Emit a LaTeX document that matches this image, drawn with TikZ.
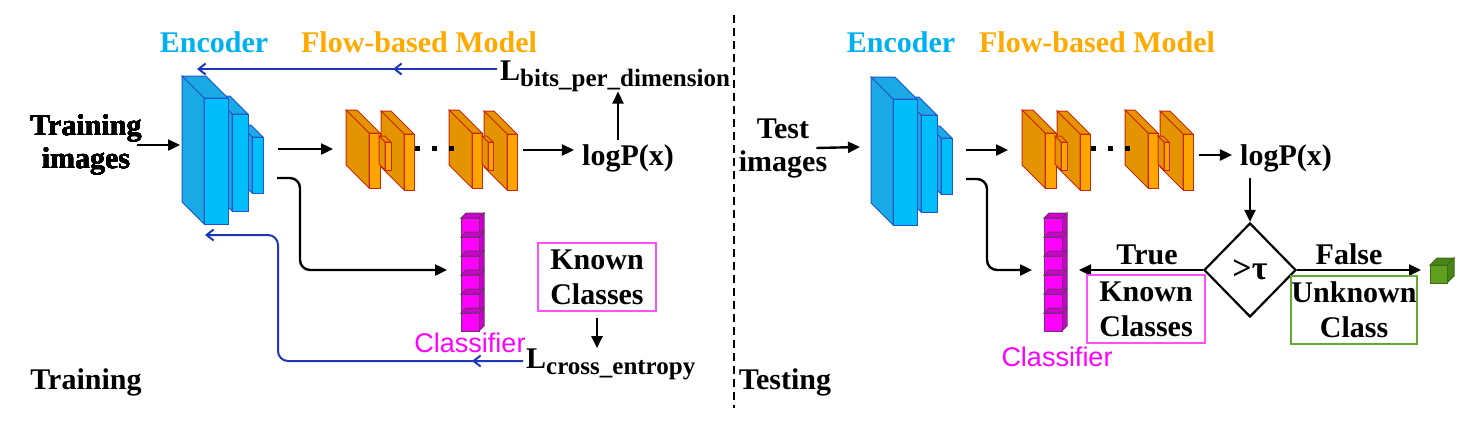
\documentclass[tikz,border=0pt]{standalone}
\usepackage{fontspec}
\setmainfont{Liberation Serif}
\newfontfamily\clsfamily{Liberation Sans}
\usepackage{tikz}
\usetikzlibrary{arrows.meta,shapes.geometric}
\definecolor{enctext}{RGB}{0,176,240}
\definecolor{flowtext}{RGB}{255,170,0}
\definecolor{encfront}{RGB}{0,190,250}
\definecolor{encside}{RGB}{25,170,230}
\definecolor{encedge}{RGB}{35,85,200}
\definecolor{flowfront}{RGB}{255,165,0}
\definecolor{flowside}{RGB}{228,148,0}
\definecolor{flowedge}{RGB}{200,40,10}
\definecolor{clsfront}{RGB}{255,0,255}
\definecolor{clsside}{RGB}{205,0,205}
\definecolor{clsedge}{RGB}{110,50,110}
\definecolor{backblue}{RGB}{30,55,185}
\definecolor{knownpink}{RGB}{255,80,255}
\definecolor{unkgreen}{RGB}{100,170,50}
\definecolor{cubefront}{RGB}{95,160,30}
\definecolor{cubeside}{RGB}{72,132,22}
\definecolor{cubeedge}{RGB}{60,110,20}
\newcommand{\slab}[8]{%
\filldraw[fill=#7,draw=#8,line width=1pt] (#1,#2) -- ++(-#5,-#5) -- ++(#3,0) -- ++(#5,#5) -- cycle;
\filldraw[fill=#7,draw=#8,line width=1pt] (#1,#2) -- ++(-#5,-#5) -- ++(0,#4) -- ++(#5,#5) -- cycle;
\filldraw[fill=#6,draw=#8,line width=1pt] (#1,#2) rectangle ++(#3,#4);}
\newcommand{\blockcube}[8]{%
\filldraw[fill=#7,draw=#8,line width=1pt] (#1,#2) -- ++(#5,-#5) -- ++(#3,0) -- ++(-#5,#5) -- cycle;
\filldraw[fill=#7,draw=#8,line width=1pt] (#1,#2) ++(#3,0) -- ++(#5,-#5) -- ++(0,#4) -- ++(-#5,#5) -- cycle;
\filldraw[fill=#6,draw=#8,line width=1pt] (#1,#2) rectangle ++(#3,#4);}
\newcommand{\losssub}[1]{\raisebox{-6pt}{\fontsize{25}{25}\selectfont #1}}
\begin{document}
\begin{tikzpicture}[x=1pt,y=-1pt,
  lbl/.style={font=\bfseries\fontsize{30}{33}\selectfont,inner sep=0pt},
  head/.style={font=\bfseries\fontsize{30}{33}\selectfont,inner sep=0pt,anchor=base},
  clsname/.style={font=\clsfamily\fontsize{27}{30}\selectfont,text=clsfront,inner sep=0pt,anchor=base},
  classbox/.style={draw,align=center,inner sep=0pt,minimum width=118pt,minimum height=68pt,line width=1.3pt,font=\bfseries\fontsize{30}{35}\selectfont},
  arr/.style={line width=2.4pt,-{Triangle[length=12pt,width=11pt]}},
  back/.style={draw=backblue,line width=2pt,-{Straight Barb[length=7pt,width=11pt]}}]
\useasboundingbox (0,0) rectangle (1483,445);
\node[head,text=enctext] (encl) at (214,52) {Encoder};
\node[head,text=flowtext] (flowl) at (419,52) {Flow-based Model};
\node[head,text=enctext] (encr) at (901,52) {Encoder};
\node[head,text=flowtext] (flowr) at (1097,52) {Flow-based Model};
\slab{252}{137}{11}{56}{12}{encfront}{encside}{encedge}
\slab{232}{114}{16}{97}{18}{encfront}{encside}{encedge}
\slab{204}{98}{24}{126}{22}{encfront}{encside}{encedge}
\slab{941}{138}{11}{56}{12}{encfront}{encside}{encedge}
\slab{921}{115}{16}{97}{18}{encfront}{encside}{encedge}
\slab{893}{99}{24}{126}{22}{encfront}{encside}{encedge}
\foreach \dx in {0,676}{
\begin{scope}[xshift=\dx pt]
\slab{369}{133}{11}{55}{23}{flowfront}{flowside}{flowedge}
\slab{404}{134}{10}{56}{23}{flowfront}{flowside}{flowedge}
\slab{385}{142}{6}{28}{6}{flowfront}{flowside}{flowedge}
\slab{472}{133}{10}{55}{23}{flowfront}{flowside}{flowedge}
\slab{507}{134}{10}{56}{23}{flowfront}{flowside}{flowedge}
\slab{488}{142}{5}{28}{6}{flowfront}{flowside}{flowedge}
\foreach \px in {415,432,449} \fill (\px,146) rectangle ++(5,5);
\end{scope}}
\foreach \cx in {461,1044} \foreach \cy in {218,237,...,313}
  \blockcube{\cx}{\cy}{18}{18}{5}{clsfront}{clsside}{clsedge}
\node[lbl,align=center] (trimg) at (86,145) {Training\\images};
\coordinate (encinl) at (180,145);
\draw[arr] ([xshift=-5pt]trimg.east) -- (encinl);
\coordinate (encoutl) at (278,149);
\coordinate (flowinl) at (333,149);
\draw[arr] (encoutl) -- (flowinl);
\node[lbl,anchor=base] (logpl) at (628,165) {logP(x)};
\coordinate (flowoutl) at (523,150);
\draw[arr,shorten >=8pt] (flowoutl) -- (flowoutl -| logpl.west);
\node[lbl,anchor=base west] (lbits) at (500,80) {L\losssub{bits\_per\_dimension}};
\coordinate (lup) at (618,140);
\draw[arr] (lup) -- (lup |- lbits.south);
\coordinate (enctopl) at (197,69);
\coordinate (midbits) at (393,69);
\draw[back] ([xshift=-3pt]lbits.west |- enctopl) -- (enctopl);
\draw[back] ([xshift=-3pt]lbits.west |- enctopl) -- (midbits);
\coordinate (clsoutl) at (277,178);
\coordinate (clsinl) at (447,270);
\draw[arr,rounded corners=10pt] (clsoutl) -- (300,178) -- (300,270) -- (clsinl);
\node[classbox,draw=knownpink] (knownl) at (597,277) {Known\\Classes};
\node[lbl,anchor=base west] (lce) at (526,368) {L\losssub{cross\_entropy}};
\draw[arr,shorten <=6pt] (knownl.south) -- (knownl.south |- lce.north);
\coordinate (ceturn) at (278,361);
\coordinate (encbotl) at (205,235);
\coordinate (midce) at (472,361);
\draw[back,rounded corners=10pt] ([xshift=-3pt]lce.west |- ceturn) -- (ceturn) -- (278,235) -- (encbotl);
\draw[back] ([xshift=-3pt]lce.west |- ceturn) -- (midce);
\node[clsname] (clsl) at (470,352) {Classifier};
\node[lbl,anchor=base] (trainl) at (86,389) {Training};
\draw[line width=2pt,dash pattern=on 8pt off 5pt] (734,15) -- (734,408);
\node[lbl,align=center] (testimg) at (783,148) {Test\\images};
\coordinate (encinr) at (860,147);
\draw[arr] ([xshift=-11pt]testimg.east) -- (encinr);
\coordinate (encoutr) at (966,150);
\coordinate (flowinr) at (1008,150);
\draw[arr] (encoutr) -- (flowinr);
\node[lbl,anchor=base] (logpr) at (1286,165) {logP(x)};
\coordinate (flowoutr) at (1199,155);
\draw[arr,shorten >=8pt] (flowoutr) -- (flowoutr -| logpr.west);
\node[lbl,diamond,draw,line width=2.2pt,aspect=1,minimum width=92pt,minimum height=94pt,font=\bfseries\fontsize{34}{34}\selectfont] (thr) at (1250,270) {>τ};
\draw[arr,shorten <=6pt] (thr.north |- logpr.south) -- (thr.north);
\coordinate (clsinr) at (1079,270);
\draw[arr] (thr.west) -- (clsinr);
\node[lbl,anchor=base] (truel) at (1147,264) {True};
\coordinate (unkin) at (1421,270);
\draw[arr] (thr.east) -- (unkin);
\node[lbl,anchor=base] (falsel) at (1349,264) {False};
\node[classbox,draw=knownpink] (knownr) at (1146,309) {Known\\Classes};
\node[classbox,draw=unkgreen,line width=2pt] (unkr) at (1354,310) {Unknown\\Class};
\blockcube{1430}{265}{17}{18}{7}{cubefront}{cubeside}{cubeedge}
\coordinate (clsoutr) at (966,179);
\coordinate (clsinr2) at (1032,270);
\draw[arr,rounded corners=10pt] (clsoutr) -- (987,179) -- (987,270) -- (clsinr2);
\node[clsname] (clsr) at (1057,366) {Classifier};
\node[lbl,anchor=base] (testl) at (785,389) {Testing};
\end{tikzpicture}
\end{document}
